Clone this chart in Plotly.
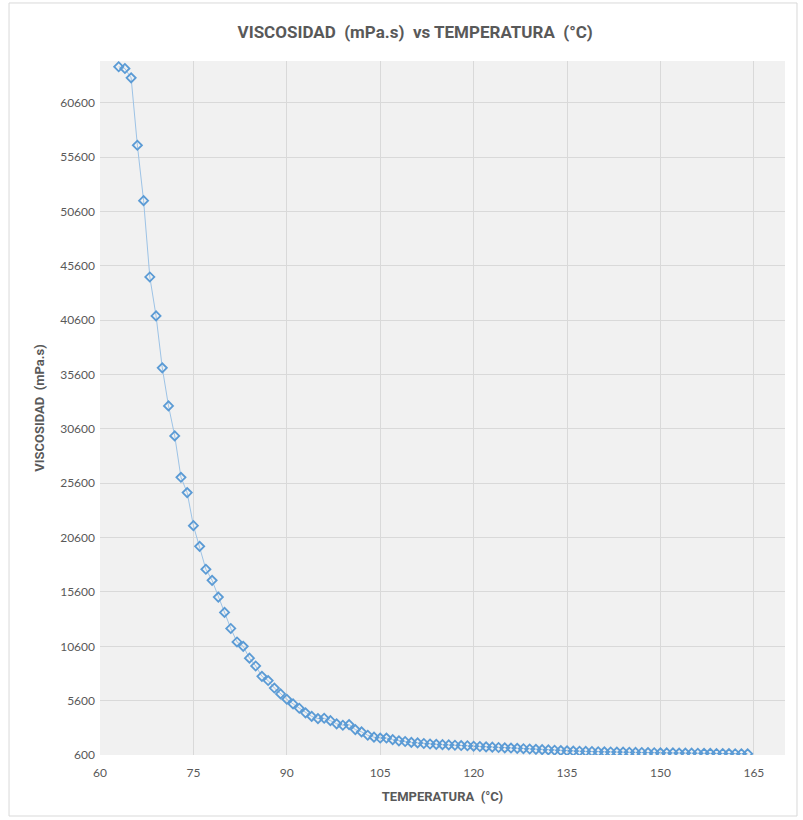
import plotly.graph_objects as go

# Temperature readings (°C)
temperatura = [
    63, 64, 65, 66, 67, 68, 69, 70, 71, 72, 73, 74, 75, 76, 77, 78, 79, 80,
    81, 82, 83, 84, 85, 86, 87, 88, 89, 90, 91, 92, 93, 94, 95, 96, 97, 98,
    99, 100, 101, 102, 103, 104, 105, 106, 107, 108, 109, 110, 111, 112, 113,
    114, 115, 116, 117, 118, 119, 120, 121, 122, 123, 124, 125, 126, 127, 128,
    129, 130, 131, 132, 133, 134, 135, 136, 137, 138, 139, 140, 141, 142, 143,
    144, 145, 146, 147, 148, 149, 150, 151, 152, 153, 154, 155, 156, 157, 158,
    159, 160, 161, 162, 163, 164,
]

# Viscosity at each temperature (mPa.s)
viscosidad = [
    63920, 63760, 62900, 56700, 51600, 44580, 41000, 36220, 32720, 29960,
    26150, 24740, 21700, 19800, 17690, 16670, 15130, 13720, 12240, 11000,
    10600, 9510, 8790, 7840, 7450, 6760, 6220, 5730, 5300, 4900,
    4480, 4150, 3950, 3980, 3760, 3470, 3340, 3400, 2940, 2730,
    2420, 2240, 2160, 2160, 2010, 1900, 1840, 1760, 1710, 1660,
    1610, 1580, 1550, 1530, 1500, 1470, 1450, 1410, 1380, 1350,
    1320, 1290, 1260, 1240, 1210, 1180, 1150, 1120, 1090, 1070,
    1040, 1010, 980, 960, 950, 930, 920, 900, 890, 880,
    870, 860, 850, 840, 830, 820, 810, 800, 795, 790,
    780, 775, 770, 760, 755, 750, 740, 735, 730, 720,
    715, 710,
]

x_ticks = [60, 75, 90, 105, 120, 135, 150, 165]
y_ticks = [600, 5600, 10600, 15600, 20600, 25600, 30600, 35600,
           40600, 45600, 50600, 55600, 60600]

TITLE_FONT = "Roboto, Liberation Sans Narrow, sans-serif"
TICK_FONT = "Lato, Open Sans, sans-serif"
GREY = "#595959"
GRID = "#d9d9d9"

fig = go.Figure()
fig.add_trace(go.Scatter(
    x=temperatura,
    y=viscosidad,
    mode="lines+markers",
    line=dict(color="#9dc3e6", width=1),
    marker=dict(symbol="diamond-open", size=7, color="#5b9bd5",
                line=dict(width=1.8, color="#5b9bd5")),
    showlegend=False,
))

# light border framing the whole chart area
fig.add_shape(type="rect", xref="paper", yref="paper",
              x0=-0.1328, x1=1.0175, y0=-0.0879, y1=1.0836,
              line=dict(color=GRID, width=1), layer="below")

fig.update_layout(
    width=803, height=820,
    margin=dict(l=100, r=18, t=61, b=65),
    paper_bgcolor="white",
    plot_bgcolor="#f1f1f1",
    title=dict(
        text="<b>VISCOSIDAD  (mPa.s)  vs TEMPERATURA  (°C)</b>",
        x=0.517, xanchor="center", y=0.961, yanchor="middle",
        font=dict(family=TITLE_FONT, size=17, color=GREY),
    ),
    xaxis=dict(
        range=[60, 170],
        tickvals=x_ticks,
        ticktext=[str(v) for v in x_ticks],
        showgrid=True, gridcolor=GRID, gridwidth=1,
        zeroline=False, showline=False, ticks="",
        ticklabelstandoff=9,
        tickfont=dict(family=TICK_FONT, size=12, color=GREY),
        title=dict(text="<b>TEMPERATURA  (°C)</b>", standoff=12,
                   font=dict(family=TITLE_FONT, size=13, color=GREY)),
    ),
    yaxis=dict(
        range=[600, 64450],
        tickvals=y_ticks,
        ticktext=[str(v) for v in y_ticks],
        showgrid=True, gridcolor=GRID, gridwidth=1,
        zeroline=False, showline=False, ticks="",
        ticklabelstandoff=4,
        tickfont=dict(family=TICK_FONT, size=12, color=GREY),
        title=dict(text="<b>VISCOSIDAD  (mPa.s)</b>", standoff=12,
                   font=dict(family=TITLE_FONT, size=13, color=GREY)),
    ),
)

fig.write_html("out.html")
